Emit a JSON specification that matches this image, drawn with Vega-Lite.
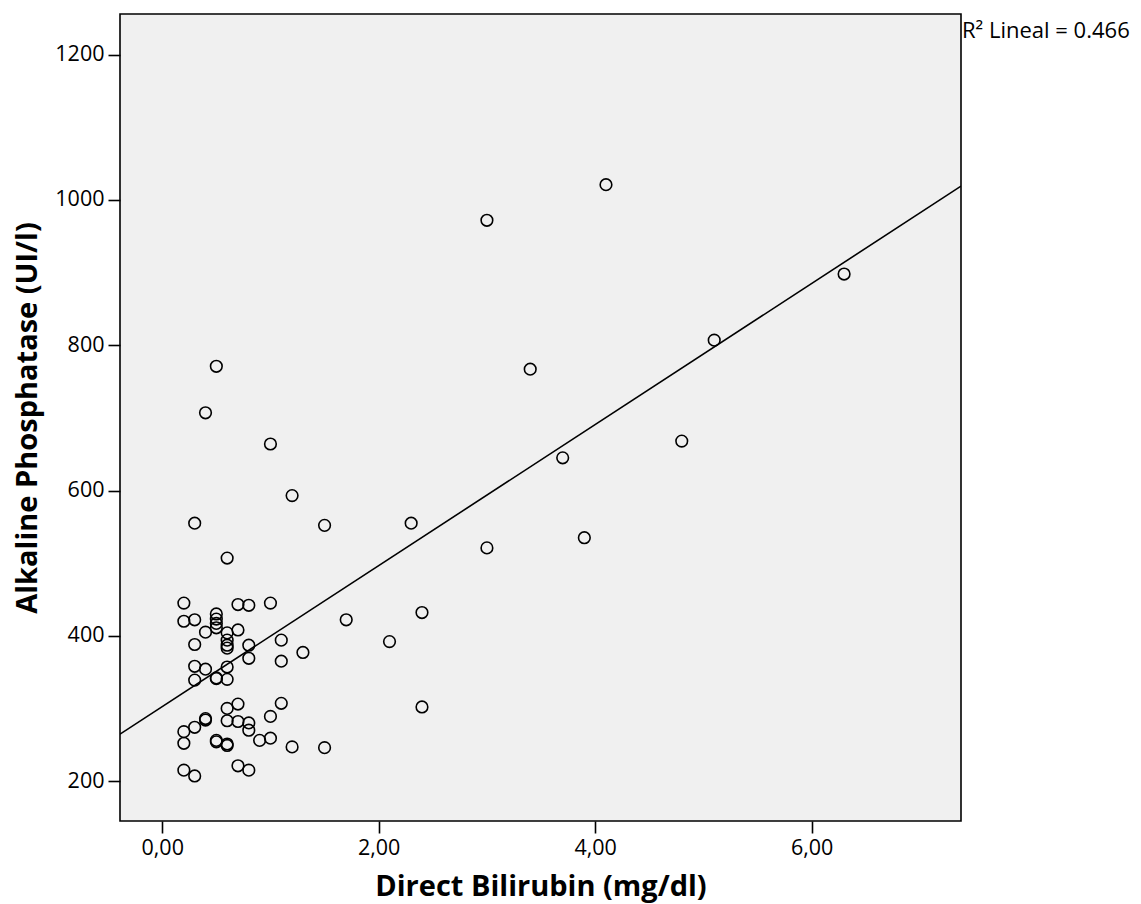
{
  "$schema": "https://vega.github.io/schema/vega-lite/v6.json",
  "autosize": {"type": "none"},
  "width": 841,
  "height": 807,
  "padding": {"left": 120, "top": 14, "right": 180, "bottom": 83},
  "background": "white",
  "config": {
    "view": {"fill": "#f0f0f0", "stroke": "#000000", "strokeWidth": 1.6},
    "font": "Open Sans",
    "axis": {
      "domain": false,
      "grid": false,
      "tickColor": "#000000",
      "tickSize": 12,
      "tickWidth": 1.6,
      "labelColor": "#000000",
      "labelFont": "Open Sans",
      "labelFontSize": 21.5,
      "labelPadding": 4,
      "titleColor": "#000000",
      "titleFont": "Open Sans",
      "titleFontWeight": "bold",
      "titleFontSize": 29
    }
  },
  "layer": [
    {
      "data": {
        "values": [
          {"bili": 0.2, "alp": 445}, {"bili": 0.2, "alp": 420}, {"bili": 0.2, "alp": 268}, {"bili": 0.2, "alp": 252}, {"bili": 0.2, "alp": 215},
          {"bili": 0.3, "alp": 422}, {"bili": 0.3, "alp": 388}, {"bili": 0.3, "alp": 358}, {"bili": 0.3, "alp": 339}, {"bili": 0.3, "alp": 274}, {"bili": 0.3, "alp": 207}, {"bili": 0.3, "alp": 555},
          {"bili": 0.4, "alp": 405}, {"bili": 0.4, "alp": 354}, {"bili": 0.4, "alp": 286}, {"bili": 0.4, "alp": 284}, {"bili": 0.4, "alp": 707},
          {"bili": 0.5, "alp": 430}, {"bili": 0.5, "alp": 423}, {"bili": 0.5, "alp": 417}, {"bili": 0.5, "alp": 411}, {"bili": 0.5, "alp": 341}, {"bili": 0.5, "alp": 342}, {"bili": 0.5, "alp": 256}, {"bili": 0.5, "alp": 254}, {"bili": 0.5, "alp": 771},
          {"bili": 0.6, "alp": 404}, {"bili": 0.6, "alp": 394}, {"bili": 0.6, "alp": 387}, {"bili": 0.6, "alp": 383}, {"bili": 0.6, "alp": 357}, {"bili": 0.6, "alp": 340}, {"bili": 0.6, "alp": 300}, {"bili": 0.6, "alp": 283}, {"bili": 0.6, "alp": 251}, {"bili": 0.6, "alp": 249}, {"bili": 0.6, "alp": 507},
          {"bili": 0.7, "alp": 443}, {"bili": 0.7, "alp": 408}, {"bili": 0.7, "alp": 306}, {"bili": 0.7, "alp": 282}, {"bili": 0.7, "alp": 221},
          {"bili": 0.8, "alp": 442}, {"bili": 0.8, "alp": 387}, {"bili": 0.8, "alp": 369}, {"bili": 0.8, "alp": 280}, {"bili": 0.8, "alp": 270}, {"bili": 0.8, "alp": 215},
          {"bili": 0.9, "alp": 256},
          {"bili": 1.0, "alp": 445}, {"bili": 1.0, "alp": 289}, {"bili": 1.0, "alp": 259}, {"bili": 1.0, "alp": 664},
          {"bili": 1.1, "alp": 394}, {"bili": 1.1, "alp": 365}, {"bili": 1.1, "alp": 307},
          {"bili": 1.2, "alp": 593}, {"bili": 1.2, "alp": 247},
          {"bili": 1.3, "alp": 377},
          {"bili": 1.5, "alp": 552}, {"bili": 1.5, "alp": 246},
          {"bili": 1.7, "alp": 422},
          {"bili": 2.1, "alp": 392},
          {"bili": 2.3, "alp": 555},
          {"bili": 2.4, "alp": 432}, {"bili": 2.4, "alp": 302},
          {"bili": 3.0, "alp": 521}, {"bili": 3.0, "alp": 972},
          {"bili": 3.4, "alp": 767},
          {"bili": 3.7, "alp": 645},
          {"bili": 3.9, "alp": 535},
          {"bili": 4.1, "alp": 1021},
          {"bili": 4.8, "alp": 668},
          {"bili": 5.1, "alp": 807},
          {"bili": 6.3, "alp": 898}
        ]
      },
      "mark": {"type": "point", "shape": "circle", "filled": false, "stroke": "#000000", "strokeWidth": 1.6, "size": 135, "opacity": 1},
      "encoding": {
        "x": {
          "field": "bili", "type": "quantitative",
          "scale": {"domain": [-0.39, 7.38], "nice": false, "zero": false},
          "axis": {
            "values": [0, 2, 4, 6],
            "labelExpr": "replace(format(datum.value, '.2f'), '.', ',')",
            "title": "Direct Bilirubin (mg/dl)",
            "titleBaseline": "alphabetic",
            "titleY": 74
          }
        },
        "y": {
          "field": "alp", "type": "quantitative",
          "scale": {"domain": [145, 1256], "nice": false, "zero": false},
          "axis": {
            "values": [200, 400, 600, 800, 1000, 1200],
            "format": "d",
            "title": "Alkaline Phosphatase (UI/l)",
            "titleBaseline": "alphabetic",
            "titleX": -84,
            "titleAngle": -90
          }
        }
      }
    },
    {
      "data": {"values": [{"bili": -0.39, "alp": 264.5}, {"bili": 7.38, "alp": 1019}]},
      "mark": {"type": "line", "color": "#000000", "strokeWidth": 1.6, "clip": true},
      "encoding": {
        "x": {"field": "bili", "type": "quantitative"},
        "y": {"field": "alp", "type": "quantitative"}
      }
    },
    {
      "data": {"values": [{"label": "R²  Lineal = 0.466"}]},
      "mark": {"type": "text", "align": "left", "baseline": "middle", "dx": 1, "fontSize": 22, "color": "#000000", "font": "Open Sans"},
      "encoding": {
        "x": {"datum": 7.38, "type": "quantitative"},
        "y": {"datum": 1232, "type": "quantitative"},
        "text": {"field": "label", "type": "nominal"}
      }
    }
  ]
}
